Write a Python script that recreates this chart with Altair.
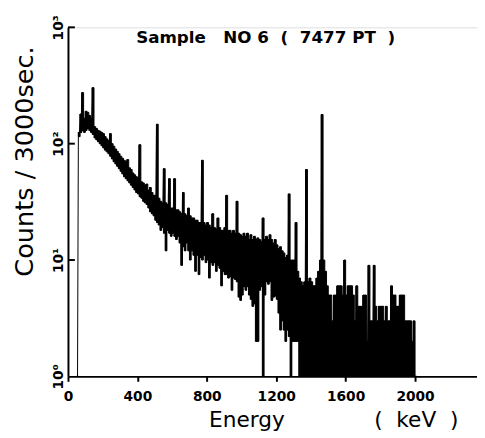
import altair as alt
import pandas as pd

# Spectrum: channel pairs every 10 keV starting at 50 keV.
# hi = upper count of each pair, lo = lower count (1 stands for 0/1 counts at the axis floor)
hi = [
    1, 125, 180, 275, 165, 190, 186, 175, 165, 303,
    140, 135, 130, 128, 125, 122, 115, 110, 106, 122,
    100, 95, 90, 86, 82, 78, 75, 72, 70, 73,
    62, 60, 56, 54, 52, 50, 98, 47, 46, 44,
    45, 40, 42, 38, 36, 36, 147, 34, 32, 31,
    61, 31, 30, 50, 28, 28, 50, 27, 27, 26,
    25, 38, 25, 24, 28, 24, 23, 23, 22, 22,
    21, 21, 72, 21, 20, 21, 20, 19, 25, 19,
    18.5, 23, 19, 18, 18, 19, 36, 18, 18, 17,
    18, 17, 32, 17, 16.5, 16, 17, 16, 17, 15,
    16.5, 15, 16, 15, 15.5, 15, 14.5, 23, 15, 16,
    15, 16.5, 15, 14, 15, 13.5, 12.5, 13, 12, 11.5,
    10.5, 11, 37, 10, 10, 10, 21, 8, 7, 6.5,
    6, 6.5, 60, 6.5, 7, 6.5, 6, 6, 7, 8,
    10, 178, 10, 8, 6, 5, 5, 3, 5, 5,
    6, 6, 6, 5, 10, 5, 6, 6, 6, 5,
    3, 6, 4, 4, 4, 5, 5, 2, 9, 3,
    3, 9, 4, 3, 4, 4, 4, 3, 4, 3,
    3, 6, 5, 5, 4, 4, 5, 5, 5, 3,
    3, 3, 3, 2, 3, 1,
]
lo = [
    1, 115, 125, 130, 125, 130, 135, 130, 125, 120,
    112, 108, 104, 100, 96, 92, 88, 85, 82, 78,
    74, 70, 67, 64, 61, 58, 55, 52, 50, 48,
    46, 44, 42, 40, 38, 37, 35, 34, 32, 31,
    30, 28, 26, 25, 24, 22, 21, 20, 18, 19,
    17, 12, 18, 17, 16, 17, 16, 15, 16, 14,
    9, 13, 12, 14, 12, 10, 12, 11, 8, 11,
    7.5, 10.5, 10, 11, 9.5, 10, 7, 9.5, 9, 9.5,
    8, 9, 8.5, 6, 8, 7.5, 7.5, 7, 7.2, 5.5,
    7, 6.8, 6.5, 4.8, 4.5, 5, 5.9, 5.5, 5.9, 5,
    4.6, 4, 4.2, 2, 2, 5.5, 5.9, 1, 5, 6.5,
    6.2, 6.5, 4.5, 4.8, 4.9, 4.6, 3.5, 2.5, 3, 2.5,
    2, 2.5, 2.2, 1, 2, 2, 2, 2, 1, 1,
    1, 1, 1, 1, 1, 1, 1, 1, 1, 1,
    1, 1, 1, 1, 1, 1, 1, 1, 1, 1,
    1, 1, 1, 1, 1, 1, 1, 1, 1, 1,
    1, 1, 1, 1, 1, 1, 1, 1, 1, 1,
    1, 1, 1, 1, 1, 1, 1, 1, 1, 1,
    1, 1, 1, 1, 1, 1, 1, 1, 1, 1,
    1, 1, 1, 1, 1, 1,
]
start_kev = 50      # energy calibration of the first channel pair
pair_kev = 10       # keV per channel pair

x_ticks = [0, 200, 400, 600, 800, 1000, 1200, 1400, 1600, 1800, 2000, 2200]
y_ticks = [1, 10, 100, 1000]
y_tick_labels = ["10\u2070", "10\u00b9", "10\u00b2", "10\u00b3"]

rows = []
bands = []
for i, (h, l) in enumerate(zip(hi, lo)):
    e = start_kev + pair_kev * i
    rows.append({"energy": e, "counts": h})
    rows.append({"energy": e + pair_kev / 2, "counts": l})
    bands.append({"energy": e, "energy_end": e + pair_kev, "lo": l, "hi": h})
df = pd.DataFrame(rows)
band_df = pd.DataFrame(bands)

label_expr = "''"
for v, t in zip(reversed(y_ticks), reversed(y_tick_labels)):
    label_expr = f"datum.value == {v} ? '{t}' : ({label_expr})"

FONT = "DejaVu Sans"
NB = "\u00a0"

xscale = alt.Scale(domain=[0, 2357], nice=False, zero=False)
yscale = alt.Scale(type="log", domain=[1, 1000], nice=False)

x_axis = alt.Axis(values=x_ticks, format="d",
                  labelExpr="datum.value % 400 == 0 ? datum.label : ''",
                  title="Energy" + NB * 13 + "(" + NB * 2 + "keV" + NB * 2 + ")",
                  titleFont=FONT, titleFontSize=22, titleFontWeight="normal",
                  titleColor="black", titleAlign="left", titleAnchor="start",
                  titleBaseline="alphabetic", titleX=143, titleY=51,
                  labelFont=FONT, labelFontSize=14, labelFontWeight="bold",
                  labelColor="black", labelPadding=9, labelFlush=False,
                  tickSize=5, tickWidth=2, tickColor="black",
                  domainWidth=2, domainColor="black", grid=False)
y_axis = alt.Axis(values=y_ticks, labelExpr=label_expr,
                  title="Counts / 3000sec.",
                  titleFont=FONT, titleFontSize=26, titleFontWeight="normal",
                  titleColor="black", titleAngle=270, titleAlign="center",
                  titleBaseline="middle", titleX=-44, titleY=136,
                  labelFont=FONT, labelFontSize=14, labelFontWeight="bold",
                  labelColor="black", labelAngle=270, labelAlign="center",
                  labelBaseline="bottom", labelPadding=3, labelFlush=False,
                  ticks=False, tickSize=0,
                  domainWidth=2, domainColor="black", grid=False)

band = alt.Chart(band_df).mark_rect(color="black", stroke="black", strokeWidth=1).encode(
    x=alt.X("energy:Q", scale=xscale, axis=x_axis),
    x2="energy_end:Q",
    y=alt.Y("lo:Q", scale=yscale, axis=y_axis),
    y2="hi:Q",
)

line = alt.Chart(df).mark_line(color="black", strokeWidth=1).encode(
    x=alt.X("energy:Q", scale=xscale),
    y=alt.Y("counts:Q", scale=yscale),
)

ytick_df = pd.DataFrame({"counts": y_ticks[1:]})
inward_ticks = alt.Chart(ytick_df).mark_rule(color="black", strokeWidth=2).encode(
    y=alt.Y("counts:Q", scale=yscale),
    x=alt.value(0),
    x2=alt.value(7),
)

title_text = ("Sample" + NB * 3 + "NO" + NB + "6" + NB * 2 + "(" + NB * 2 +
              "7477" + NB + "PT" + NB * 2 + ")")

chart = alt.layer(band, line, inward_ticks).properties(
    width=416,
    height=355,
    autosize=alt.AutoSizeParams(type="none"),
    padding={"left": 61, "top": 16, "right": 0, "bottom": 58},
    title=alt.TitleParams(
        text=title_text,
        font=FONT, fontSize=17, fontWeight="bold", color="black",
        anchor="middle", frame="group", orient="top", baseline="alphabetic",
        offset=-46, dx=-7,
    ),
).configure_view(stroke=None).configure(background="white")

chart.save("out.html", embed_options={"renderer": "svg", "actions": False})
